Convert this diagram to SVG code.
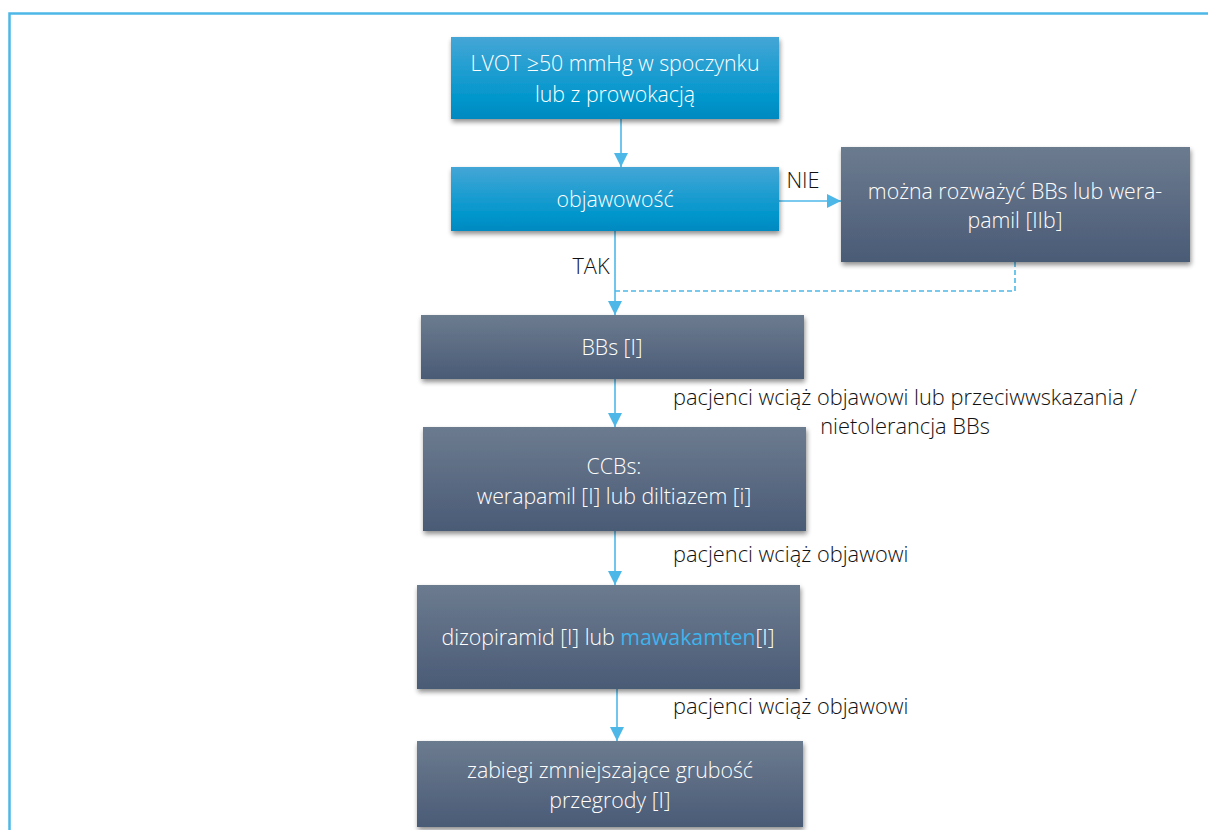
<svg xmlns="http://www.w3.org/2000/svg" width="1208" height="830" viewBox="0 0 1208 830">
<defs>
<linearGradient id="gBlue" x1="0" y1="0" x2="0" y2="1"><stop offset="0" stop-color="#44a6d6"/><stop offset="0.75" stop-color="#0196cc"/><stop offset="1" stop-color="#0089c0"/></linearGradient>
<linearGradient id="gGray" x1="0" y1="0" x2="0" y2="1"><stop offset="0" stop-color="#6c7b8f"/><stop offset="1" stop-color="#4a5b76"/></linearGradient>
<filter id="sh" x="-5%" y="-10%" width="112%" height="130%"><feGaussianBlur in="SourceAlpha" stdDeviation="2.5"/><feOffset dx="1" dy="3"/><feComponentTransfer><feFuncA type="linear" slope="0.45"/></feComponentTransfer><feMerge><feMergeNode/><feMergeNode in="SourceGraphic"/></feMerge></filter>
<marker id="arr" viewBox="0 0 10 10" refX="10" refY="5" markerWidth="14" markerHeight="14" markerUnits="userSpaceOnUse" orient="auto"><path d="M0,0 L10,5 L0,10 Z" fill="#4db8e8"/></marker>
<style>
.nt{font-family:"Open Sans","Liberation Sans",sans-serif;font-weight:300;font-size:21.3px;fill:#ffffff;text-anchor:middle}
.lb{font-family:"Open Sans","Liberation Sans",sans-serif;font-weight:300;font-size:21.8px;fill:#111111}
.cn{stroke:#4db8e8;stroke-width:1.6;fill:none}
</style>
</defs>
<rect width="1208" height="830" fill="#ffffff"/>
<path d="M9.5,830 V13.5 H1208" fill="none" stroke="#4db8e8" stroke-width="2.5"/>

<g id="connectors">
<line class="cn" x1="621" y1="119" x2="621" y2="167" marker-end="url(#arr)"/>
<line class="cn" x1="615" y1="231" x2="615" y2="315" marker-end="url(#arr)"/>
<line class="cn" x1="779" y1="201" x2="841" y2="201" marker-end="url(#arr)"/>
<polyline class="cn" points="1015,262 1015,291 615,291" stroke-dasharray="5,3" stroke-width="1.3"/>
<line class="cn" x1="615" y1="379" x2="615" y2="427" marker-end="url(#arr)"/>
<line class="cn" x1="615" y1="531" x2="615" y2="585" marker-end="url(#arr)"/>
<line class="cn" x1="617" y1="689" x2="617" y2="741" marker-end="url(#arr)"/>
<text class="lb" x="803" y="188" text-anchor="middle">NIE</text>
<text class="lb" x="591" y="274" text-anchor="middle">TAK</text>
<text class="lb" x="905" y="405" text-anchor="middle">pacjenci wciąż objawowi lub przeciwwskazania /</text>
<text class="lb" x="905" y="434" text-anchor="middle">nietolerancja BBs</text>
<text class="lb" x="673" y="562">pacjenci wciąż objawowi</text>
<text class="lb" x="673" y="714">pacjenci wciąż objawowi</text>
</g>

<g id="n1"><rect x="451" y="37" width="328" height="82" fill="url(#gBlue)" filter="url(#sh)"/>
<text class="nt" x="615" y="71">LVOT ≥50 mmHg w spoczynku</text>
<text class="nt" x="615" y="102">lub z prowokacją</text></g>

<g id="n2"><rect x="451" y="167" width="328" height="64" fill="url(#gBlue)" filter="url(#sh)"/>
<text class="nt" x="615" y="207">objawowość</text></g>

<g id="n3"><rect x="841" y="147" width="349" height="115" fill="url(#gGray)" filter="url(#sh)"/>
<text class="nt" x="1015" y="199">można rozważyć BBs lub wera-</text>
<text class="nt" x="1015" y="228">pamil [IIb]</text></g>

<g id="n4"><rect x="421" y="315" width="383" height="64" fill="url(#gGray)" filter="url(#sh)"/>
<text class="nt" x="612" y="355">BBs [I]</text></g>

<g id="n5"><rect x="423" y="427" width="383" height="104" fill="url(#gGray)" filter="url(#sh)"/>
<text class="nt" x="614" y="474">CCBs:</text>
<text class="nt" x="614" y="504">werapamil [I] lub diltiazem [i]</text></g>

<g id="n6"><rect x="417" y="585" width="383" height="104" fill="url(#gGray)" filter="url(#sh)"/>
<text class="nt" x="608" y="645">dizopiramid [I] lub <tspan fill="#3fb4ec" font-weight="400">mawakamten</tspan>[I]</text></g>

<g id="n7"><rect x="417" y="741" width="386" height="86" fill="url(#gGray)" filter="url(#sh)"/>
<text class="nt" x="610" y="778">zabiegi zmniejszające grubość</text>
<text class="nt" x="610" y="808">przegrody [I]</text></g>
</svg>
